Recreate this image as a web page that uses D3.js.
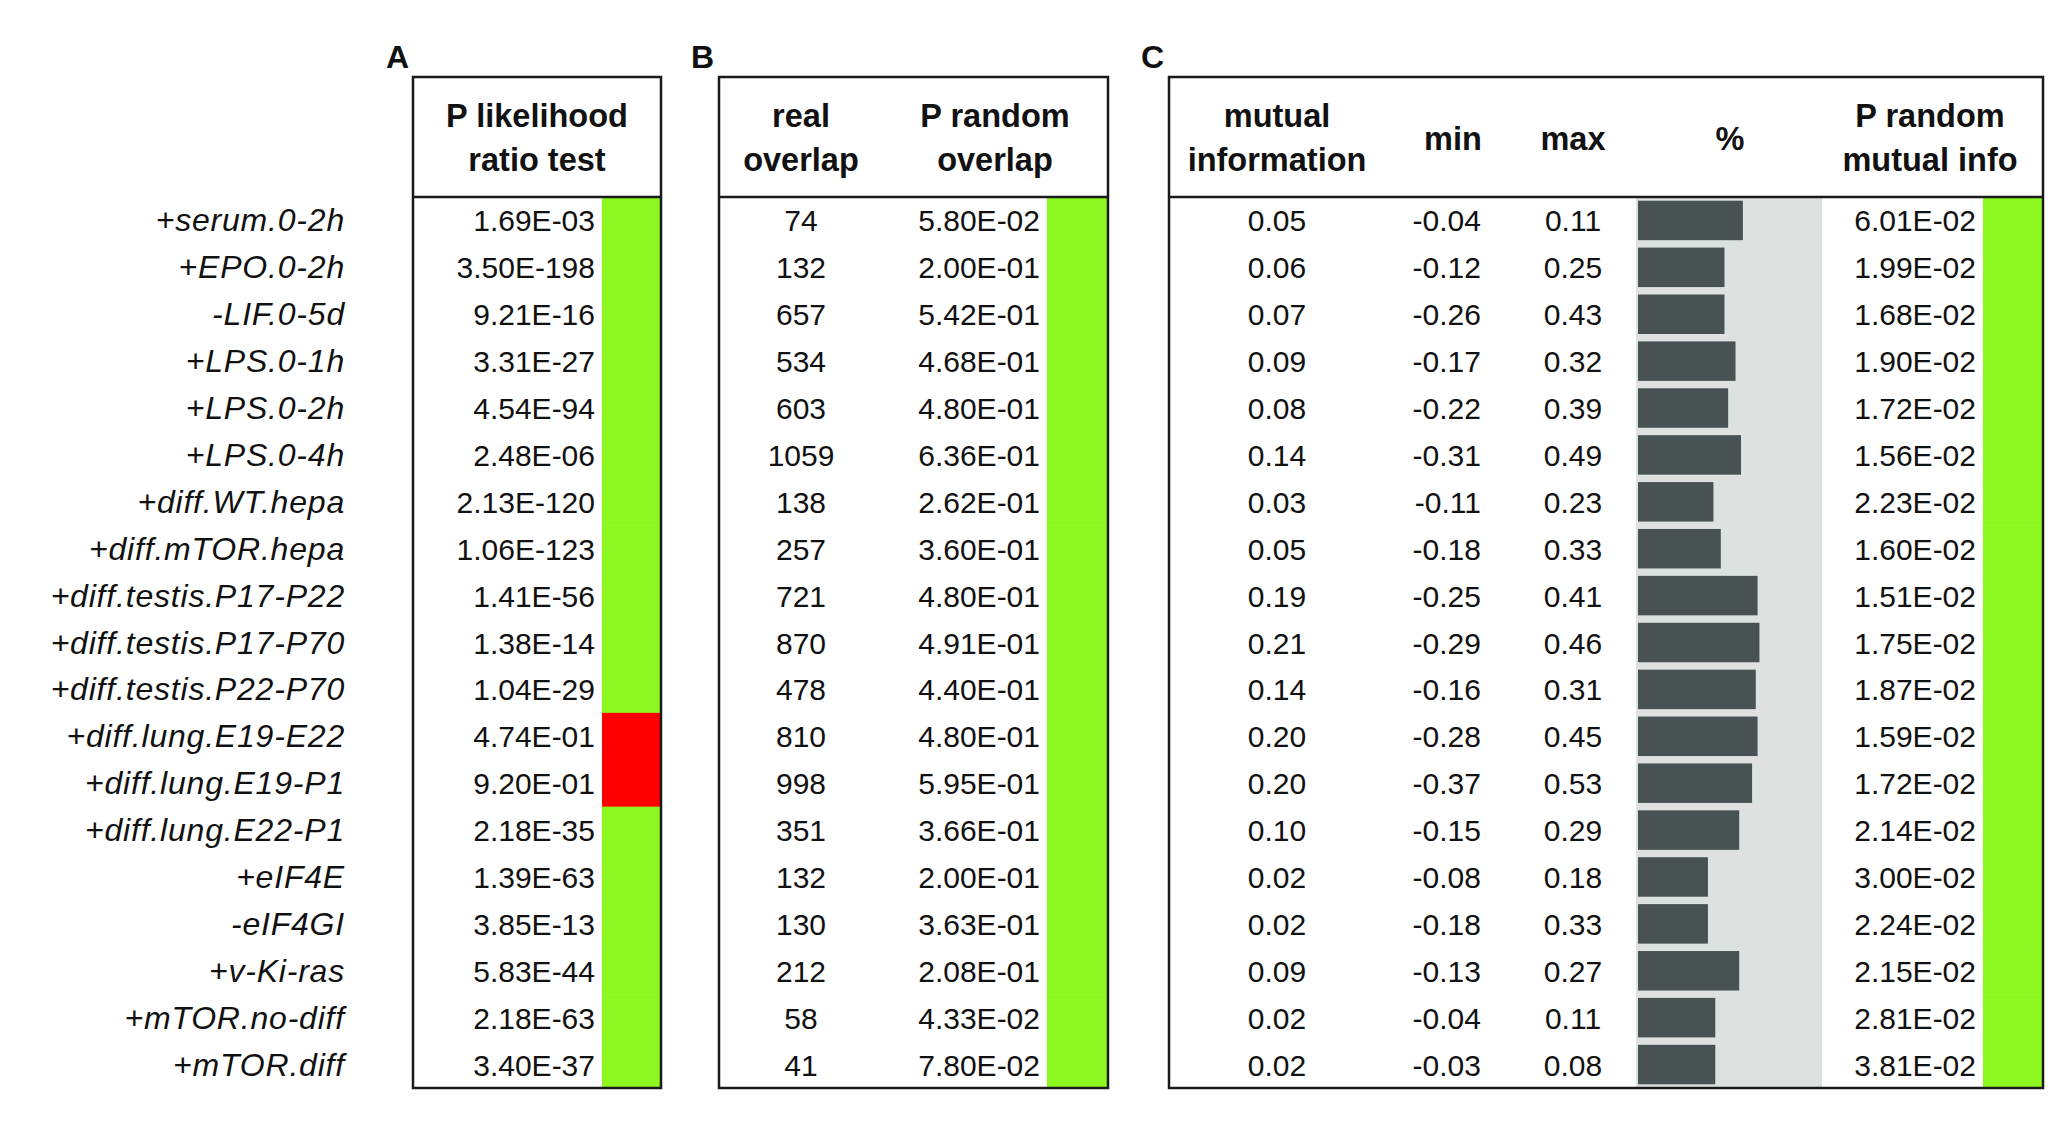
<!DOCTYPE html>
<html>
<head>
<meta charset="utf-8">
<script src="https://cdn.jsdelivr.net/npm/d3@7"></script>
<style>
  body { margin: 0; background: #fff; }
  text { font-family: "Liberation Sans", Arial, sans-serif; fill: #111; }
</style>
</head>
<body>
<div id="chart"></div>
<script>
// row labels (conditions)
const labels = ["+serum.0-2h", "+EPO.0-2h", "-LIF.0-5d", "+LPS.0-1h", "+LPS.0-2h", "+LPS.0-4h",
  "+diff.WT.hepa", "+diff.mTOR.hepa", "+diff.testis.P17-P22", "+diff.testis.P17-P70",
  "+diff.testis.P22-P70", "+diff.lung.E19-E22", "+diff.lung.E19-P1", "+diff.lung.E22-P1",
  "+eIF4E", "-eIF4GI", "+v-Ki-ras", "+mTOR.no-diff", "+mTOR.diff"];

// panel A
const pLikelihood = ["1.69E-03", "3.50E-198", "9.21E-16", "3.31E-27", "4.54E-94", "2.48E-06",
  "2.13E-120", "1.06E-123", "1.41E-56", "1.38E-14", "1.04E-29", "4.74E-01", "9.20E-01",
  "2.18E-35", "1.39E-63", "3.85E-13", "5.83E-44", "2.18E-63", "3.40E-37"];
// 1 = green cell, 0 = red cell
const passA = [1, 1, 1, 1, 1, 1, 1, 1, 1, 1, 1, 0, 0, 1, 1, 1, 1, 1, 1];

// panel B
const realOverlap = [74, 132, 657, 534, 603, 1059, 138, 257, 721, 870, 478, 810, 998, 351, 132, 130, 212, 58, 41];
const pRandomOverlap = ["5.80E-02", "2.00E-01", "5.42E-01", "4.68E-01", "4.80E-01", "6.36E-01",
  "2.62E-01", "3.60E-01", "4.80E-01", "4.91E-01", "4.40E-01", "4.80E-01", "5.95E-01",
  "3.66E-01", "2.00E-01", "3.63E-01", "2.08E-01", "4.33E-02", "7.80E-02"];
const passB = [1, 1, 1, 1, 1, 1, 1, 1, 1, 1, 1, 1, 1, 1, 1, 1, 1, 1, 1];

// panel C
const mutualInfo = ["0.05", "0.06", "0.07", "0.09", "0.08", "0.14", "0.03", "0.05", "0.19", "0.21",
  "0.14", "0.20", "0.20", "0.10", "0.02", "0.02", "0.09", "0.02", "0.02"];
const miMin = ["-0.04", "-0.12", "-0.26", "-0.17", "-0.22", "-0.31", "-0.11", "-0.18", "-0.25", "-0.29",
  "-0.16", "-0.28", "-0.37", "-0.15", "-0.08", "-0.18", "-0.13", "-0.04", "-0.03"];
const miMax = ["0.11", "0.25", "0.43", "0.32", "0.39", "0.49", "0.23", "0.33", "0.41", "0.46",
  "0.31", "0.45", "0.53", "0.29", "0.18", "0.33", "0.27", "0.11", "0.08"];
const pct = [57, 47, 47, 53, 49, 56, 41, 45, 65, 66, 64, 65, 62, 55, 38, 38, 55, 42, 42];
const pRandomMI = ["6.01E-02", "1.99E-02", "1.68E-02", "1.90E-02", "1.72E-02", "1.56E-02",
  "2.23E-02", "1.60E-02", "1.51E-02", "1.75E-02", "1.87E-02", "1.59E-02", "1.72E-02",
  "2.14E-02", "3.00E-02", "2.24E-02", "2.15E-02", "2.81E-02", "3.81E-02"];
const passC = [1, 1, 1, 1, 1, 1, 1, 1, 1, 1, 1, 1, 1, 1, 1, 1, 1, 1, 1];

const width = 2067, height = 1140;
const GREEN = "#8cf81f", RED = "#ff0000";

const svg = d3.select("#chart").append("svg")
  .attr("width", width)
  .attr("height", height);

svg.append("rect").attr("width", width).attr("height", height).attr("fill", "#fff");

const tableTop = 77, headTop = 197, tableBottom = 1088;

const y = d3.scaleBand()
  .domain(d3.range(labels.length))
  .range([headTop, tableBottom]);

// panel x positions
const panels = [
  { letter: "A", lx: 386, left: 413, right: 661 },
  { letter: "B", lx: 691, left: 719, right: 1108 },
  { letter: "C", lx: 1141, left: 1169, right: 2043 }
];

// coloured status columns (drawn first so the borders sit on top)
function statusColumn(x0, x1, flags) {
  svg.append("g").selectAll("rect")
    .data(flags)
    .enter().append("rect")
    .attr("x", x0)
    .attr("y", (d, i) => y(i))
    .attr("width", x1 - x0)
    .attr("height", y.bandwidth() + 0.5)
    .attr("fill", d => (d ? GREEN : RED));
}
statusColumn(602, 661, passA);
statusColumn(1047, 1108, passB);
statusColumn(1983, 2043, passC);

// % bars
const xBar = d3.scaleLinear().domain([0, 100]).range([1638, 1822]);
svg.append("rect")
  .attr("x", 1636)
  .attr("y", headTop)
  .attr("width", xBar(100) - 1636)
  .attr("height", tableBottom - headTop)
  .attr("fill", "#dde2e1");
svg.append("g").selectAll("rect")
  .data(pct)
  .enter().append("rect")
  .attr("x", xBar(0))
  .attr("y", (d, i) => y(i) + 3.7)
  .attr("width", d => xBar(d) - xBar(0))
  .attr("height", y.bandwidth() - 7.4)
  .attr("fill", "#485253");

// panel frames and letters
panels.forEach(p => {
  svg.append("rect")
    .attr("x", p.left)
    .attr("y", tableTop)
    .attr("width", p.right - p.left)
    .attr("height", tableBottom - tableTop)
    .attr("fill", "none")
    .attr("stroke", "#1a1a1a")
    .attr("stroke-width", 2.5);
  svg.append("line")
    .attr("x1", p.left).attr("x2", p.right)
    .attr("y1", headTop).attr("y2", headTop)
    .attr("stroke", "#1a1a1a")
    .attr("stroke-width", 2.5);
  svg.append("text")
    .attr("x", p.lx)
    .attr("y", 68)
    .attr("font-size", 32)
    .attr("font-weight", "bold")
    .text(p.letter);
});

// headers
const headers = [
  { x: 537, lines: ["P likelihood", "ratio test"] },
  { x: 801, lines: ["real", "overlap"] },
  { x: 995, lines: ["P random", "overlap"] },
  { x: 1277, lines: ["mutual", "information"] },
  { x: 1453, lines: ["min"] },
  { x: 1573, lines: ["max"] },
  { x: 1730, lines: ["%"] },
  { x: 1930, lines: ["P random", "mutual info"] }
];
headers.forEach(h => {
  const t = svg.append("text")
    .attr("text-anchor", "middle")
    .attr("font-size", 32.5)
    .attr("font-weight", "bold");
  const y0 = h.lines.length === 1 ? 150 : 127;
  h.lines.forEach((l, i) => {
    t.append("tspan").attr("x", h.x).attr("y", y0 + i * 43.5).text(l);
  });
});

// row labels
svg.append("g").selectAll("text")
  .data(labels)
  .enter().append("text")
  .attr("x", 345)
  .attr("y", (d, i) => y(i) + y.bandwidth() / 2 + 11)
  .attr("text-anchor", "end")
  .attr("font-size", 32)
  .attr("font-style", "italic")
  .attr("letter-spacing", 0.8)
  .text(d => d);

// numeric columns
function textColumn(values, x, anchor) {
  svg.append("g").selectAll("text")
    .data(values)
    .enter().append("text")
    .attr("x", x)
    .attr("y", (d, i) => y(i) + y.bandwidth() / 2 + 11)
    .attr("text-anchor", anchor)
    .attr("font-size", 30)
    .text(d => d);
}
textColumn(pLikelihood, 595, "end");
textColumn(realOverlap, 801, "middle");
textColumn(pRandomOverlap, 1040, "end");
textColumn(mutualInfo, 1277, "middle");
textColumn(miMin, 1481, "end");
textColumn(miMax, 1573, "middle");
textColumn(pRandomMI, 1976, "end");
</script>
</body>
</html>
